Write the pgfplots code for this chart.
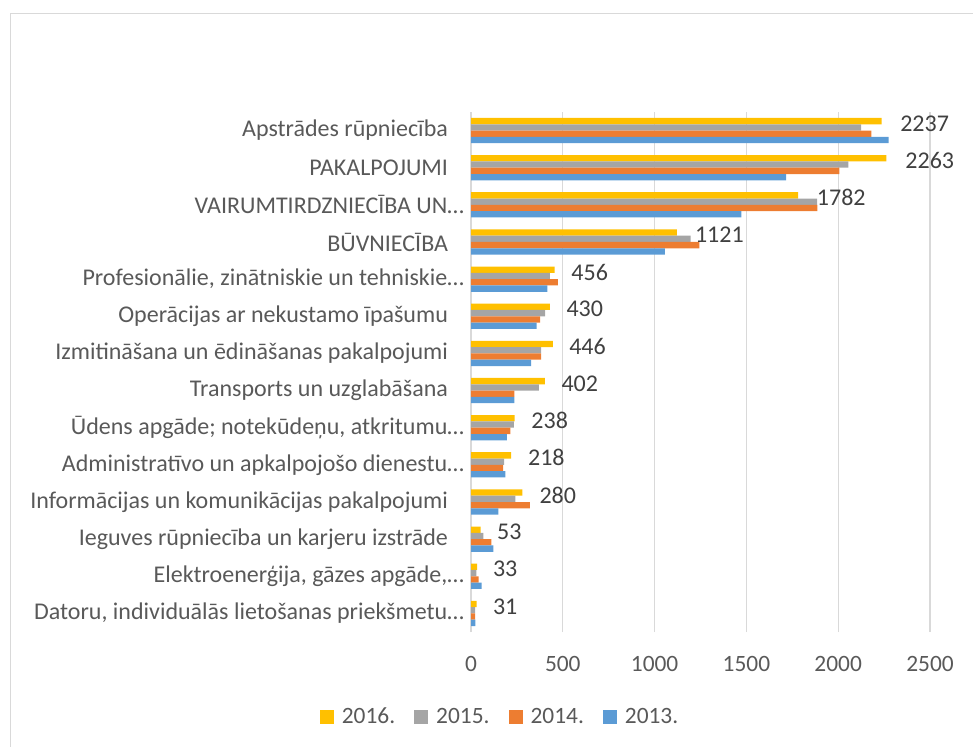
\documentclass[border=0pt]{standalone}
\usepackage{fontspec}
\setmainfont{Carlito}
\usepackage{pgfplots}
\pgfplotsset{compat=1.18}
\definecolor{c16}{HTML}{FFC000}
\definecolor{c15}{HTML}{A5A5A5}
\definecolor{c14}{HTML}{ED7D31}
\definecolor{c13}{HTML}{5B9BD5}
\definecolor{gridc}{HTML}{D9D9D9}
\definecolor{txt}{HTML}{595959}
\definecolor{lbl}{HTML}{404040}
\pgfplotsset{
  mybar/.style={xbar, bar width=0.17, draw=none,
    legend image code/.code={\fill[##1,draw=none] (0pt,-3.5pt) rectangle (7pt,3.5pt);}},
}
\newcommand{\trsp}{\kern8pt}
\begin{document}
\begin{tikzpicture}
\useasboundingbox (0,0) rectangle (486.5pt,-373.5pt);
\draw[gridc, line width=0.65pt] (5.25pt,-373.5pt) -- (5.25pt,-6.6pt) -- (486.5pt,-6.6pt);
\begin{axis}[
  scale only axis, width=229.5pt, height=260pt,
  at={(235.5pt,-316pt)}, anchor=south west,
  xmin=0, xmax=2500, ymin=-0.5, ymax=13.5,
  xtick={0,500,...,2500},
  ytick={0,...,13},
  yticklabels={
    {Datoru, individuālās lietošanas priekšmetu…},
    {Elektroenerģija, gāzes apgāde,…},
    {Ieguves rūpniecība un karjeru izstrāde\trsp},
    {Informācijas un komunikācijas pakalpojumi\trsp},
    {Administratīvo un apkalpojošo dienestu…},
    {Ūdens apgāde; notekūdeņu, atkritumu…},
    {Transports un uzglabāšana\trsp},
    {Izmitināšana un ēdināšanas pakalpojumi\trsp},
    {Operācijas ar nekustamo īpašumu\trsp},
    {Profesionālie, zinātniskie un tehniskie…},
    {BŪVNIECĪBA\trsp},
    {VAIRUMTIRDZNIECĪBA UN…},
    {PAKALPOJUMI\trsp},
    {Apstrādes rūpniecība\trsp}
  },
  major tick length=0pt,
  axis line style={draw=none},
  xmajorgrids, grid style={gridc, line width=0.6pt},
  tick label style={font=\fontsize{12}{14}\selectfont, text=txt},
  xticklabel style={yshift=-8.5pt, font=\fontsize{11.7}{14}\selectfont},
  /pgf/number format/assume math mode=true,
  /pgf/number format/1000 sep={},
  clip=false,
  legend style={at={(0.0611,-0.1635)}, anchor=center, draw=none, fill=none,
    legend columns=4, font=\fontsize{11.7}{14}\selectfont, text=txt,
    /tikz/every odd column/.append style={column sep=4pt},
    /tikz/every even column/.append style={column sep=9.5pt},
    inner sep=0pt, nodes={inner sep=0pt}},
]
\addplot[mybar, bar shift=0.255, fill=c16] coordinates {
 (2237,13) (2263,12) (1782,11) (1121,10) (456,9) (430,8) (446,7)
 (402,6) (238,5) (218,4) (280,3) (53,2) (33,1) (31,0)};
\addlegendentry{2016.}
\addplot[mybar, bar shift=0.085, fill=c15] coordinates {
 (2125,13) (2055,12) (1885,11) (1196,10) (429,9) (404,8) (382,7)
 (369,6) (233,5) (180,4) (242,3) (67,2) (29,1) (22,0)};
\addlegendentry{2015.}
\addplot[mybar, bar shift=-0.085, fill=c14] coordinates {
 (2180,13) (2007,12) (1887,11) (1244,10) (473,9) (376,8) (382,7)
 (236,6) (215,5) (175,4) (320,3) (111,2) (42,1) (22,0)};
\addlegendentry{2014.}
\addplot[mybar, bar shift=-0.255, fill=c13] coordinates {
 (2275,13) (1716,12) (1473,11) (1056,10) (416,9) (358,8) (327,7)
 (236,6) (195,5) (187,4) (149,3) (122,2) (58,1) (24,0)};
\addlegendentry{2013.}
\addplot[forget plot, draw=none, mark=none, nodes near coords,
  point meta=explicit symbolic,
  nodes near coords style={anchor=west, inner sep=0pt,
    font=\fontsize{12}{14}\selectfont, text=lbl}] coordinates {
 (2336,13.19) [2237] (2364,12.19) [2263] (1882,11.19) [1782] (1218,10.19) [1121]
 (545,9.19) [456] (518,8.19) [430] (533,7.19) [446] (491,6.19) [402]
 (327,5.19) [238] (309,4.19) [218] (371,3.19) [280] (140,2.19) [53]
 (118,1.19) [33] (118,0.19) [31]};
\end{axis}
\end{tikzpicture}
\end{document}
